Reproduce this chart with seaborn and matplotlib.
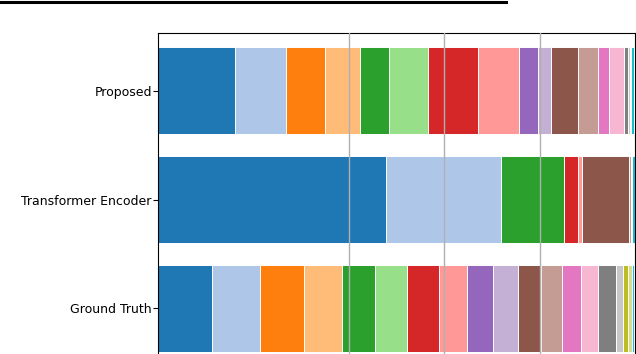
import numpy as np
import matplotlib
matplotlib.use("Agg")
import matplotlib.pyplot as plt
from matplotlib.lines import Line2D
import seaborn as sns

# share of each segment (tab20 order)
models = ["Proposed", "Transformer Encoder", "Ground Truth"]
proposed = [0.162, 0.107, 0.082, 0.073, 0.061, 0.082, 0.103, 0.086, 0.040, 0.027,
            0.057, 0.042, 0.023, 0.031, 0.010, 0.003, 0.001, 0.001, 0.007, 0.0]
transformer = [0.477, 0.242, 0.0, 0.0, 0.133, 0.0, 0.029, 0.008, 0.0, 0.0,
               0.099, 0.004, 0.0, 0.0, 0.0, 0.001, 0.0, 0.0, 0.006, 0.0]
ground_truth = [0.114, 0.100, 0.093, 0.078, 0.070, 0.068, 0.067, 0.058, 0.055, 0.052,
                0.048, 0.043, 0.040, 0.037, 0.037, 0.015, 0.010, 0.008, 0.005, 0.002]
grid_ticks = [0.4, 0.6, 0.8]

palette = sns.color_palette("tab20", 20)
shares = np.array([proposed, transformer, ground_truth])
cum = np.cumsum(shares, axis=1)

fig = plt.figure(figsize=(6.36, 3.54), dpi=100)
ax = fig.add_axes([158 / 636, 1 - 366.2 / 354, 477 / 636, 333.2 / 354])

# stacked bars: draw the running totals back to front
for k in range(shares.shape[1] - 1, -1, -1):
    sns.barplot(x=cum[:, k], y=models, orient="h", color=palette[k],
                saturation=1, width=0.8, edgecolor="white", linewidth=0.7, ax=ax)

ax.set_xlim(0, 1)
ax.set_ylim(2.53, -0.53)
ax.set_xticks(grid_ticks)
ax.set_xticklabels([])
ax.set_xlabel("")
ax.set_ylabel("")
ax.tick_params(axis="y", labelsize=9, pad=1)
ax.set_axisbelow(False)
ax.xaxis.grid(True, color="#b0b0b0", linewidth=1)
for s in ax.spines.values():
    s.set_color("black")

# rule at the very top of the cropped figure
fig.add_artist(Line2D([0, 506 / 636], [1 - 1.5 / 354, 1 - 1.5 / 354],
                      transform=fig.transFigure, color="black", linewidth=2.2))

fig.savefig("out.png", dpi=100)
